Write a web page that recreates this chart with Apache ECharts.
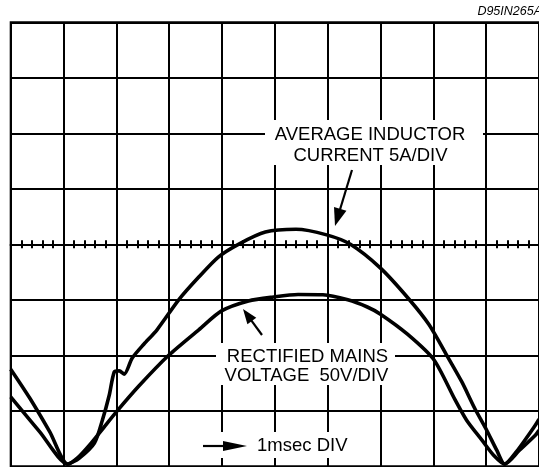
<!DOCTYPE html>
<html><head><meta charset="utf-8">
<script src="https://cdn.jsdelivr.net/npm/echarts@6/dist/echarts.min.js"></script>
<style>html,body{margin:0;padding:0;background:#fff}#c{width:539px;height:467px}</style>
</head><body><div id="c"></div>
<script>
// Time axis in msec (1 msec / div), vertical in divisions (centre line = 0)
const currentTime = [0, 0.36, 0.74, 1.08, 1.30, 1.585, 1.735, 1.865, 1.96, 2.055, 2.15, 2.30, 2.52, 2.77, 3.18, 3.56, 3.93, 4.31, 4.82, 5.40, 5.98, 6.43, 7.00, 7.54, 7.92, 8.26, 8.54, 8.78, 9.01, 9.20, 9.35, 9.57, 9.93, 10];
const currentDiv  = [-2.25, -2.77, -3.38, -3.96, -3.85, -3.58, -3.17, -2.72, -2.30, -2.28, -2.34, -2.05, -1.80, -1.54, -1.00, -0.59, -0.23, 0.00, 0.22, 0.27, 0.17, 0.00, -0.43, -0.99, -1.45, -2.01, -2.48, -2.95, -3.35, -3.71, -3.96, -3.74, -3.26, -3.15];
const voltageTime = [0, 0.55, 1.08, 1.265, 1.49, 1.754, 2.00, 2.43, 2.99, 3.56, 3.99, 4.50, 4.97, 5.44, 5.91, 6.38, 6.75, 7.00, 7.51, 8.01, 8.41, 8.63, 8.92, 9.14, 9.35, 9.63, 9.93, 10];
const voltageDiv  = [-2.75, -3.38, -3.96, -3.85, -3.62, -3.31, -3.02, -2.55, -2.00, -1.54, -1.20, -1.02, -0.95, -0.905, -0.91, -1.00, -1.13, -1.26, -1.62, -2.08, -2.80, -3.17, -3.53, -3.80, -3.96, -3.71, -3.44, -3.35];

const labelAvg1 = 'AVERAGE INDUCTOR';
const labelAvg2 = 'CURRENT 5A/DIV';
const labelV1 = 'RECTIFIED MAINS';
const labelV2 = 'VOLTAGE  50V/DIV';
const labelTime = '1msec DIV';
const figId = 'D95IN265A';

const chart = echarts.init(document.getElementById('c'), null, {renderer: 'canvas'});
const pair = (xs, ys) => xs.map((x, i) => [x, ys[i]]);
const BLK = '#000';
const FONT = '"Liberation Sans", Arial, Helvetica, sans-serif';

function arrow(x1, y1, x2, y2, hl, hw, lw) {
  const dx = x2 - x1, dy = y2 - y1, L = Math.hypot(dx, dy), ux = dx / L, uy = dy / L;
  const bx = x2 - ux * hl, by = y2 - uy * hl, px = -uy * hw / 2, py = ux * hw / 2;
  return [
    {type: 'line', z: 101, shape: {x1: x1, y1: y1, x2: bx + ux, y2: by + uy}, style: {stroke: BLK, lineWidth: lw}},
    {type: 'polygon', z: 101, shape: {points: [[x2, y2], [bx + px, by + py], [bx - px, by - py]]}, style: {fill: BLK}}
  ];
}
function txt(s, x, y, size, align, italic) {
  return {type: 'text', z: 102, x: x, y: y, style: {text: s, font: (italic ? 'italic ' : '') + size + 'px ' + FONT, fill: BLK,
    align: align, textAlign: align, verticalAlign: 'middle', textVerticalAlign: 'middle'}};
}
function box(x, y, w, h) {
  return {type: 'rect', z: 100, shape: {x: x, y: y, width: w, height: h}, style: {fill: '#fff'}};
}

const xCommon = {type: 'value', min: 0, max: 10, interval: 1,
  axisLabel: {show: false}, axisTick: {show: false},
  minorTick: {show: true, splitNumber: 5, length: 4, lineStyle: {color: BLK, width: 2}}};

chart.setOption({
  animation: false,
  backgroundColor: '#fff',
  grid: {left: 10.7, top: 22.3, width: 532, height: 444, show: true, borderColor: BLK, borderWidth: 2, containLabel: false},
  xAxis: [
    Object.assign({}, xCommon, {position: 'bottom',
      axisLine: {show: true, onZero: true, onZeroAxisIndex: 0, lineStyle: {color: BLK, width: 2}},
      splitLine: {show: true, lineStyle: {color: BLK, width: 2}}}),
    Object.assign({}, xCommon, {position: 'top',
      axisLine: {show: true, onZero: true, onZeroAxisIndex: 0, lineStyle: {color: BLK, width: 2}},
      splitLine: {show: false}})
  ],
  yAxis: {type: 'value', min: -4, max: 4, interval: 1,
    axisLine: {show: false}, axisTick: {show: false}, axisLabel: {show: false},
    splitLine: {show: true, lineStyle: {color: BLK, width: 2}}},
  series: [
    {name: 'Average inductor current', type: 'line', data: pair(currentTime, currentDiv), showSymbol: false, smooth: 0.25,
      lineStyle: {color: BLK, width: 3.6}, z: 5},
    {name: 'Rectified mains voltage', type: 'line', data: pair(voltageTime, voltageDiv), showSymbol: false, smooth: 0.25,
      lineStyle: {color: BLK, width: 3.6}, z: 5}
  ],
  graphic: [
    box(265, 120, 218, 45),
    box(216, 343, 179, 42),
    box(186, 432, 172, 26),
    txt(labelAvg1, 370, 135, 18.5, 'center'),
    txt(labelAvg2, 370.5, 156, 18.5, 'center'),
    txt(labelV1, 307.5, 357, 18.5, 'center'),
    txt(labelV2, 306.5, 376, 18.5, 'center'),
    txt(labelTime, 257, 446, 18.5, 'left'),
    txt(figId, 542, 12, 12.5, 'right', true)
  ].concat(arrow(352, 170, 335, 226, 18, 13, 2.2))
   .concat(arrow(262, 335, 243, 309, 15, 11, 2.2))
   .concat(arrow(203, 446, 247, 446, 24, 10, 2.2))
});
</script></body></html>
